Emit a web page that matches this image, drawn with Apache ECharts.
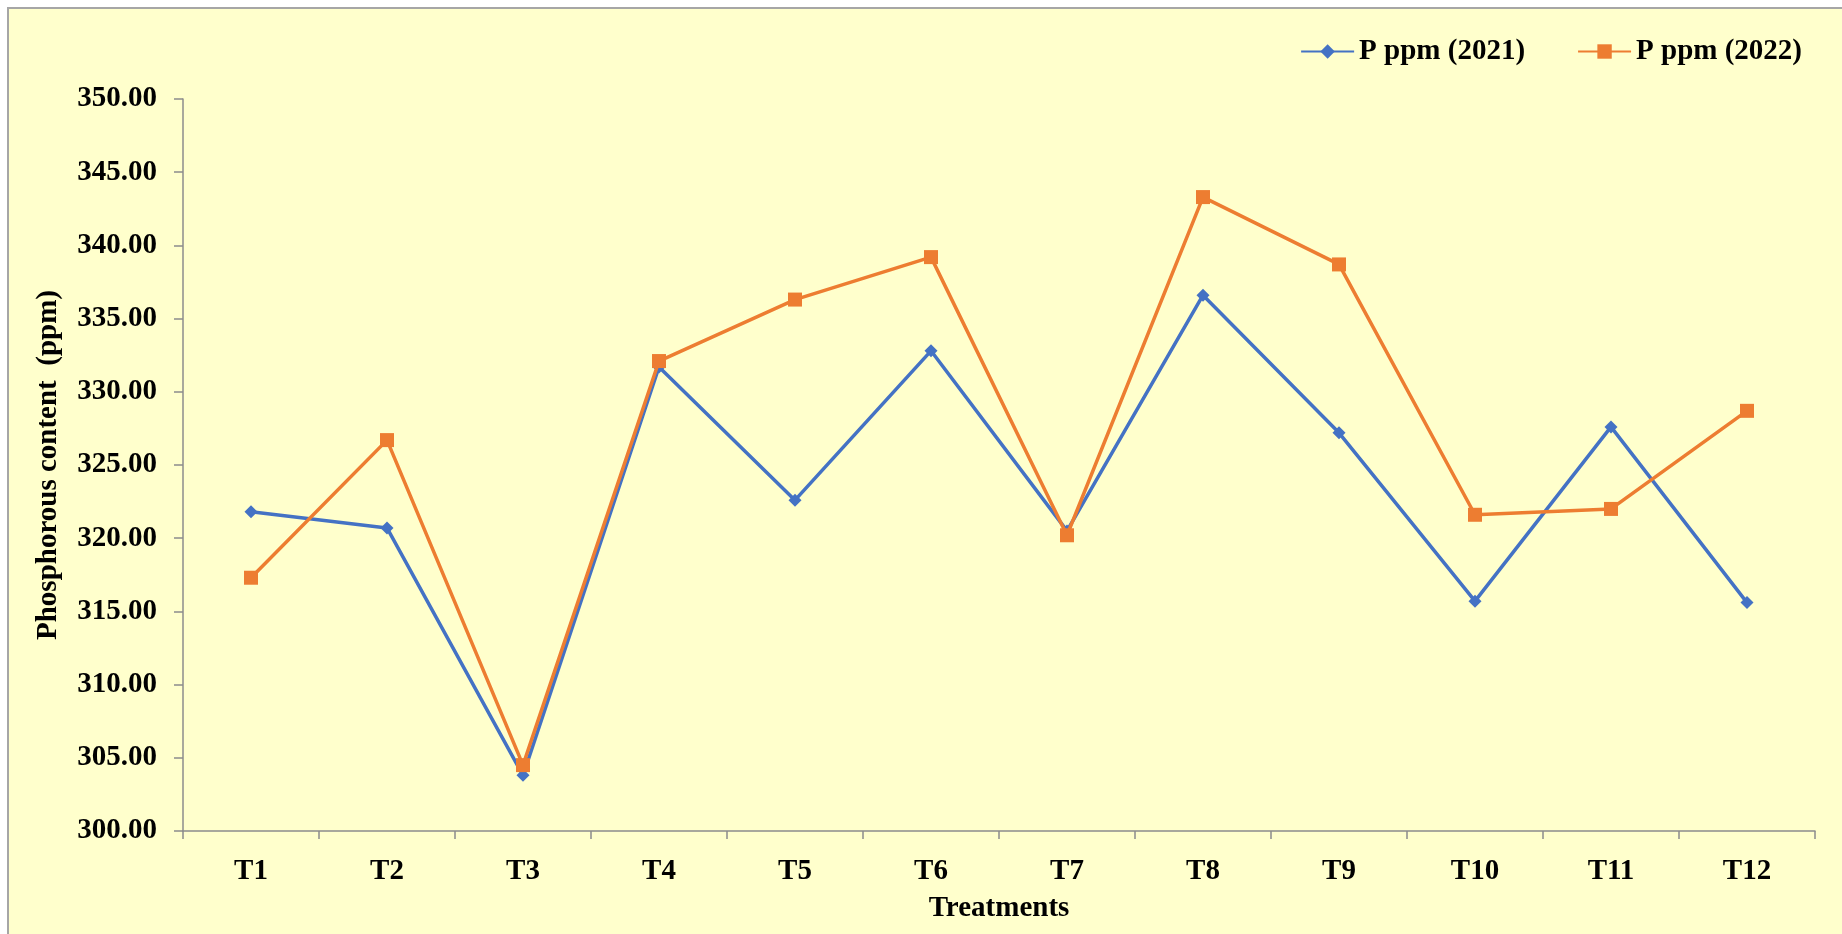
<!DOCTYPE html>
<html>
<head>
<meta charset="utf-8">
<title>Phosphorous content by treatment</title>
<script src="https://cdn.jsdelivr.net/npm/echarts@6/dist/echarts.min.js"></script>
<style>
  html, body { margin: 0; padding: 0; background: #ffffff; }
  #chart { width: 1842px; height: 934px; }
</style>
</head>
<body>
<div id="chart"></div>
<script>
// Treatments on the category axis
const treatments = ['T1', 'T2', 'T3', 'T4', 'T5', 'T6', 'T7', 'T8', 'T9', 'T10', 'T11', 'T12'];

// Available phosphorus (ppm) per treatment
const phos2021 = [321.8, 320.7, 303.8, 331.7, 322.6, 332.8, 320.5, 336.6, 327.2, 315.7, 327.6, 315.6];
const phos2022 = [317.3, 326.7, 304.5, 332.1, 336.3, 339.2, 320.2, 343.3, 338.7, 321.6, 322.0, 328.7];

// Value axis range
const yMin = 300;
const yMax = 350;
const yStep = 5;

const serif = '"Liberation Serif", "Times New Roman", serif';
const axisGray = '#8c8c8c';
const fontPx = 29;

const chart = echarts.init(document.getElementById('chart'), null, { renderer: 'canvas' });

chart.setOption({
  backgroundColor: '#ffffff',
  animation: false,
  graphic: [{
    type: 'rect',
    z: -10,
    silent: true,
    shape: { x: 8, y: 8, width: 1850, height: 940 },
    style: { fill: '#ffffcc', stroke: '#a6a6a6', lineWidth: 2 }
  }],
  legend: {
    right: 35,
    top: 32,
    itemWidth: 53,
    itemHeight: 18,
    itemGap: 52,
    textStyle: { fontFamily: serif, fontWeight: 'bold', fontSize: fontPx, color: '#000' },
    data: ['P ppm (2021)', 'P ppm (2022)']
  },
  grid: { left: 183, right: 27, top: 99, bottom: 103, containLabel: false },
  xAxis: {
    type: 'category',
    data: treatments,
    boundaryGap: true,
    name: 'Treatments',
    nameLocation: 'middle',
    nameGap: 63,
    nameTextStyle: { fontFamily: serif, fontWeight: 'bold', fontSize: fontPx, color: '#000' },
    axisLine: { lineStyle: { color: axisGray, width: 1.5 } },
    axisTick: { show: true, length: 8, alignWithLabel: false, lineStyle: { color: axisGray, width: 1.5 } },
    axisLabel: { margin: 26, fontFamily: serif, fontWeight: 'bold', fontSize: fontPx, color: '#000' },
    splitLine: { show: false }
  },
  yAxis: {
    type: 'value',
    min: yMin,
    max: yMax,
    interval: yStep,
    name: 'Phosphorous content  (ppm)',
    nameLocation: 'middle',
    nameGap: 120,
    nameRotate: 90,
    nameTextStyle: { fontFamily: serif, fontWeight: 'bold', fontSize: fontPx, color: '#000' },
    axisLine: { show: true, lineStyle: { color: axisGray, width: 1.5 } },
    axisTick: { show: true, length: 9, lineStyle: { color: axisGray, width: 1.5 } },
    axisLabel: {
      margin: 26,
      fontFamily: serif, fontWeight: 'bold', fontSize: fontPx, color: '#000',
      formatter: v => v.toFixed(2)
    },
    splitLine: { show: false }
  },
  series: [
    {
      name: 'P ppm (2021)',
      type: 'line',
      data: phos2021,
      symbol: 'diamond',
      symbolSize: 13,
      showAllSymbol: true,
      lineStyle: { color: '#4472c4', width: 3.5 },
      itemStyle: { color: '#4472c4' },
      z: 2
    },
    {
      name: 'P ppm (2022)',
      type: 'line',
      data: phos2022,
      symbol: 'rect',
      symbolSize: 14,
      showAllSymbol: true,
      lineStyle: { color: '#ed7d31', width: 3.5 },
      itemStyle: { color: '#ed7d31' },
      z: 3
    }
  ]
});
</script>
</body>
</html>
